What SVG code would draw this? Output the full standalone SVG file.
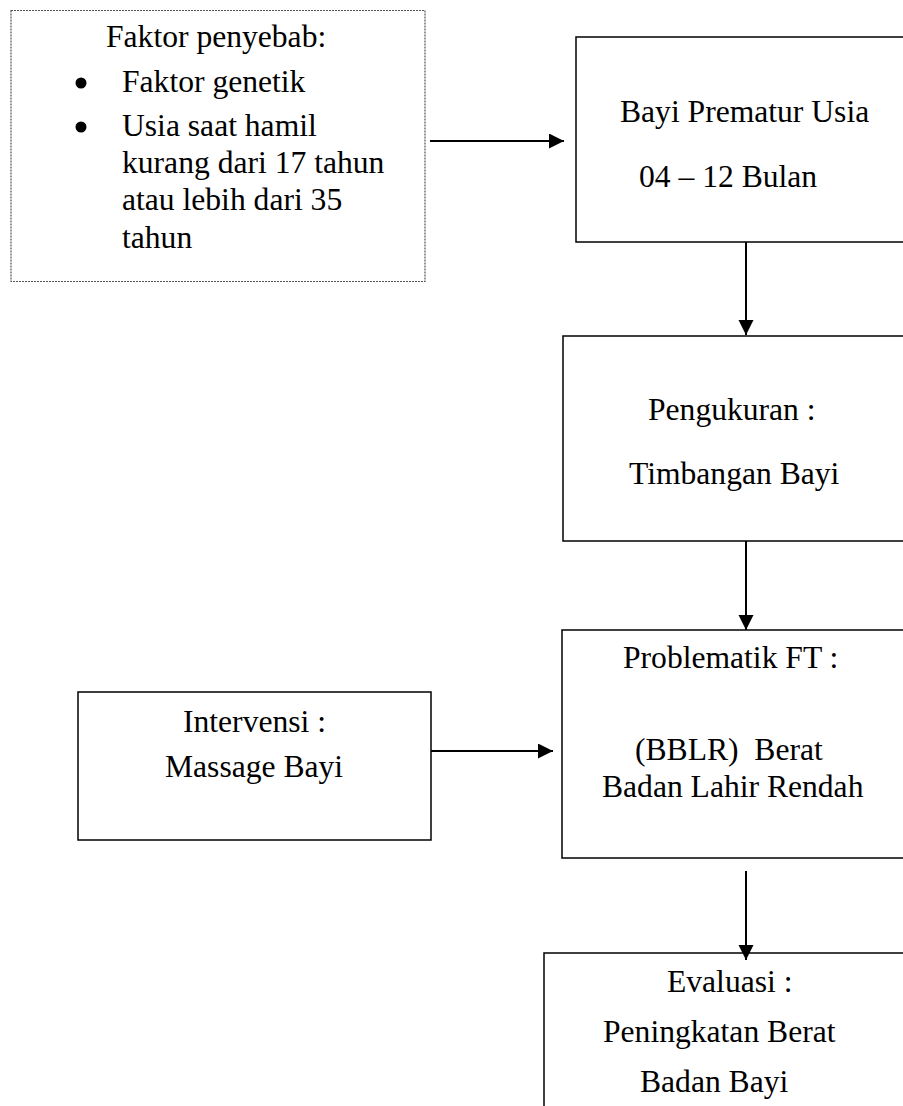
<svg xmlns="http://www.w3.org/2000/svg" width="903" height="1106" viewBox="0 0 903 1106">
<style>
.box{fill:#fff;stroke:#000;stroke-width:1.5}
.dot{fill:#fff;stroke:#555;stroke-width:1.2;stroke-dasharray:2 1}
.t{font-family:"Liberation Serif","Times New Roman",serif;font-size:31.6px;fill:#000}
.c{stroke:#000;stroke-width:2;fill:none}
</style>
<defs>
<marker id="ah" markerUnits="userSpaceOnUse" markerWidth="16" markerHeight="16" refX="15" refY="7.5" orient="auto">
<path d="M0,0 L15,7.5 L0,15 Z" fill="#000"/>
</marker>
</defs>
<rect width="903" height="1106" fill="#fff"/>
<g id="faktor">
<rect class="dot" x="11" y="10.5" width="414" height="271"/>
<text class="t" x="106" y="47">Faktor penyebab:</text>
<circle cx="81" cy="83" r="5.5" fill="#000"/>
<text class="t" x="122" y="92">Faktor genetik</text>
<circle cx="81" cy="127" r="5.5" fill="#000"/>
<text class="t" x="122" y="136">Usia saat hamil</text>
<text class="t" x="122" y="173">kurang dari 17 tahun</text>
<text class="t" x="122" y="210">atau lebih dari 35</text>
<text class="t" x="122" y="248">tahun</text>
</g>
<g id="bayi">
<rect class="box" x="576" y="37" width="345" height="205"/>
<text class="t" x="620" y="122">Bayi Prematur Usia</text>
<text class="t" x="639" y="187">04 – 12 Bulan</text>
</g>
<g id="pengukuran">
<rect class="box" x="563" y="336" width="370" height="205"/>
<text class="t" x="648" y="420">Pengukuran :</text>
<text class="t" x="629" y="484">Timbangan Bayi</text>
</g>
<g id="problematik">
<rect class="box" x="562" y="630" width="370" height="228"/>
<text class="t" x="623" y="668">Problematik FT :</text>
<text class="t" x="635" y="760" xml:space="preserve">(BBLR)  Berat</text>
<text class="t" x="602" y="797">Badan Lahir Rendah</text>
</g>
<g id="intervensi">
<rect class="box" x="78" y="692" width="353" height="148"/>
<text class="t" x="183" y="732">Intervensi :</text>
<text class="t" x="165" y="777">Massage Bayi</text>
</g>
<g id="evaluasi">
<rect class="box" x="544" y="953" width="400" height="200"/>
<text class="t" x="667" y="992">Evaluasi :</text>
<text class="t" x="603" y="1042">Peningkatan Berat</text>
<text class="t" x="640" y="1092">Badan Bayi</text>
</g>
<g id="connectors">
<line class="c" x1="430" y1="141" x2="564" y2="141" marker-end="url(#ah)"/>
<line class="c" x1="746" y1="242" x2="746" y2="335" marker-end="url(#ah)"/>
<line class="c" x1="746" y1="541" x2="746" y2="630" marker-end="url(#ah)"/>
<line class="c" x1="431" y1="751" x2="553" y2="751" marker-end="url(#ah)"/>
<line class="c" x1="746" y1="871" x2="746" y2="960" marker-end="url(#ah)"/>
</g>
</svg>
